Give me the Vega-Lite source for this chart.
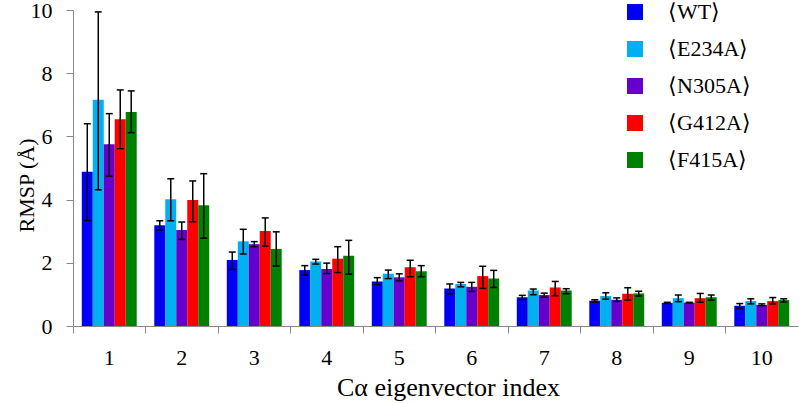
{
  "$schema": "https://vega.github.io/schema/vega-lite/v6.json",
  "width": 725,
  "height": 316,
  "autosize": "none",
  "padding": {"left": 73, "top": 10, "right": 2, "bottom": 77},
  "background": "white",
  "config": {"view": {"stroke": null}, "font": "Liberation Serif", "axis": {"labelFont": "Liberation Serif", "titleFont": "Liberation Serif"}, "legend": {"labelFont": "Liberation Serif"}},
  "data": {"values": [
    {"idx": 1, "series": "⟨WT⟩", "v": 4.88, "lo": 3.34, "hi": 6.40},
    {"idx": 1, "series": "⟨E234A⟩", "v": 7.16, "lo": 4.31, "hi": 9.94},
    {"idx": 1, "series": "⟨N305A⟩", "v": 5.75, "lo": 4.74, "hi": 6.72},
    {"idx": 1, "series": "⟨G412A⟩", "v": 6.54, "lo": 5.61, "hi": 7.47},
    {"idx": 1, "series": "⟨F415A⟩", "v": 6.77, "lo": 6.12, "hi": 7.44},
    {"idx": 2, "series": "⟨WT⟩", "v": 3.19, "lo": 3.04, "hi": 3.33},
    {"idx": 2, "series": "⟨E234A⟩", "v": 4.01, "lo": 3.33, "hi": 4.66},
    {"idx": 2, "series": "⟨N305A⟩", "v": 3.04, "lo": 2.74, "hi": 3.29},
    {"idx": 2, "series": "⟨G412A⟩", "v": 3.99, "lo": 3.30, "hi": 4.59},
    {"idx": 2, "series": "⟨F415A⟩", "v": 3.82, "lo": 2.78, "hi": 4.82},
    {"idx": 3, "series": "⟨WT⟩", "v": 2.09, "lo": 1.79, "hi": 2.34},
    {"idx": 3, "series": "⟨E234A⟩", "v": 2.68, "lo": 2.28, "hi": 3.06},
    {"idx": 3, "series": "⟨N305A⟩", "v": 2.59, "lo": 2.51, "hi": 2.67},
    {"idx": 3, "series": "⟨G412A⟩", "v": 3.01, "lo": 2.53, "hi": 3.42},
    {"idx": 3, "series": "⟨F415A⟩", "v": 2.44, "lo": 1.90, "hi": 2.98},
    {"idx": 4, "series": "⟨WT⟩", "v": 1.77, "lo": 1.61, "hi": 1.91},
    {"idx": 4, "series": "⟨E234A⟩", "v": 2.04, "lo": 1.96, "hi": 2.11},
    {"idx": 4, "series": "⟨N305A⟩", "v": 1.80, "lo": 1.66, "hi": 1.99},
    {"idx": 4, "series": "⟨G412A⟩", "v": 2.13, "lo": 1.69, "hi": 2.51},
    {"idx": 4, "series": "⟨F415A⟩", "v": 2.22, "lo": 1.64, "hi": 2.71},
    {"idx": 5, "series": "⟨WT⟩", "v": 1.41, "lo": 1.31, "hi": 1.53},
    {"idx": 5, "series": "⟨E234A⟩", "v": 1.65, "lo": 1.50, "hi": 1.77},
    {"idx": 5, "series": "⟨N305A⟩", "v": 1.54, "lo": 1.43, "hi": 1.65},
    {"idx": 5, "series": "⟨G412A⟩", "v": 1.86, "lo": 1.56, "hi": 2.08},
    {"idx": 5, "series": "⟨F415A⟩", "v": 1.73, "lo": 1.56, "hi": 1.91},
    {"idx": 6, "series": "⟨WT⟩", "v": 1.19, "lo": 1.02, "hi": 1.33},
    {"idx": 6, "series": "⟨E234A⟩", "v": 1.33, "lo": 1.24, "hi": 1.38},
    {"idx": 6, "series": "⟨N305A⟩", "v": 1.24, "lo": 1.09, "hi": 1.38},
    {"idx": 6, "series": "⟨G412A⟩", "v": 1.58, "lo": 1.19, "hi": 1.89},
    {"idx": 6, "series": "⟨F415A⟩", "v": 1.50, "lo": 1.22, "hi": 1.76},
    {"idx": 7, "series": "⟨WT⟩", "v": 0.91, "lo": 0.84, "hi": 0.97},
    {"idx": 7, "series": "⟨E234A⟩", "v": 1.12, "lo": 0.99, "hi": 1.17},
    {"idx": 7, "series": "⟨N305A⟩", "v": 0.98, "lo": 0.91, "hi": 1.04},
    {"idx": 7, "series": "⟨G412A⟩", "v": 1.22, "lo": 0.96, "hi": 1.41},
    {"idx": 7, "series": "⟨F415A⟩", "v": 1.12, "lo": 1.02, "hi": 1.18},
    {"idx": 8, "series": "⟨WT⟩", "v": 0.80, "lo": 0.75, "hi": 0.83},
    {"idx": 8, "series": "⟨E234A⟩", "v": 0.95, "lo": 0.85, "hi": 1.05},
    {"idx": 8, "series": "⟨N305A⟩", "v": 0.83, "lo": 0.78, "hi": 0.89},
    {"idx": 8, "series": "⟨G412A⟩", "v": 1.02, "lo": 0.82, "hi": 1.21},
    {"idx": 8, "series": "⟨F415A⟩", "v": 1.03, "lo": 0.95, "hi": 1.10},
    {"idx": 9, "series": "⟨WT⟩", "v": 0.73, "lo": 0.71, "hi": 0.75},
    {"idx": 9, "series": "⟨E234A⟩", "v": 0.88, "lo": 0.77, "hi": 0.98},
    {"idx": 9, "series": "⟨N305A⟩", "v": 0.74, "lo": 0.73, "hi": 0.75},
    {"idx": 9, "series": "⟨G412A⟩", "v": 0.88, "lo": 0.75, "hi": 1.03},
    {"idx": 9, "series": "⟨F415A⟩", "v": 0.91, "lo": 0.82, "hi": 0.98},
    {"idx": 10, "series": "⟨WT⟩", "v": 0.64, "lo": 0.55, "hi": 0.71},
    {"idx": 10, "series": "⟨E234A⟩", "v": 0.79, "lo": 0.70, "hi": 0.86},
    {"idx": 10, "series": "⟨N305A⟩", "v": 0.67, "lo": 0.64, "hi": 0.70},
    {"idx": 10, "series": "⟨G412A⟩", "v": 0.79, "lo": 0.70, "hi": 0.90},
    {"idx": 10, "series": "⟨F415A⟩", "v": 0.82, "lo": 0.76, "hi": 0.86}
  ]},
  "encoding": {
    "x": {
      "field": "idx", "type": "ordinal",
      "scale": {"paddingInner": 0, "paddingOuter": 0},
      "axis": {
        "title": "Cα eigenvector index",
        "bandPosition": 0, "labelAngle": 0,
        "tickSize": 7, "tickColor": "#888888", "domainColor": "#888888", "tickWidth": 1,
        "labelFontSize": 22, "labelPadding": 14, "labelColor": "black", "labelFont": "Liberation Serif",
        "titleFontSize": 26, "titleFontWeight": "normal", "titleColor": "black", "titleFont": "Liberation Serif",
        "titleX": 375, "titleBaseline": "alphabetic", "titleY": 69,
        "grid": false
      }
    },
    "xOffset": {
      "field": "series", "type": "nominal",
      "scale": {"domain": ["⟨WT⟩", "⟨E234A⟩", "⟨N305A⟩", "⟨G412A⟩", "⟨F415A⟩"], "paddingInner": 0, "paddingOuter": 0.8}
    }
  },
  "layer": [
    {
      "mark": {"type": "bar"},
      "encoding": {
        "y": {
          "field": "v", "type": "quantitative",
          "scale": {"domain": [0, 10]},
          "axis": {
            "title": "RMSP (Å)", "values": [0, 2, 4, 6, 8, 10], "grid": false,
            "tickSize": 7, "labelPadding": 14, "labelFontSize": 22, "labelColor": "black", "labelFont": "Liberation Serif",
            "titleFontSize": 22, "titleFontWeight": "normal", "titleColor": "black", "titleFont": "Liberation Serif",
            "titleX": -40, "titleY": 175, "titleBaseline": "alphabetic",
            "domainColor": "#888888", "tickColor": "#888888"
          }
        },
        "color": {
          "field": "series", "type": "nominal",
          "scale": {
            "domain": ["⟨WT⟩", "⟨E234A⟩", "⟨N305A⟩", "⟨G412A⟩", "⟨F415A⟩"],
            "range": ["#0000F5", "#00B0F0", "#6600CC", "#FF0000", "#008000"]
          },
          "legend": {
            "orient": "none", "legendX": 551, "legendY": -9, "title": null,
            "symbolType": "square", "symbolSize": 256, "symbolStrokeWidth": 0,
            "labelFontSize": 22, "labelOffset": 22, "rowPadding": 15, "padding": 0,
            "labelFont": "Liberation Serif", "labelColor": "black"
          }
        }
      }
    },
    {
      "mark": {"type": "rule", "color": "black", "strokeWidth": 1.5},
      "encoding": {
        "y": {"field": "lo", "type": "quantitative", "title": "RMSP (Å)"},
        "y2": {"field": "hi"}
      }
    },
    {
      "mark": {"type": "tick", "color": "black", "thickness": 1.5, "size": 7, "opacity": 1},
      "encoding": {"y": {"field": "lo", "type": "quantitative", "title": "RMSP (Å)"}}
    },
    {
      "mark": {"type": "tick", "color": "black", "thickness": 1.5, "size": 7, "opacity": 1},
      "encoding": {"y": {"field": "hi", "type": "quantitative", "title": "RMSP (Å)"}}
    }
  ]
}
